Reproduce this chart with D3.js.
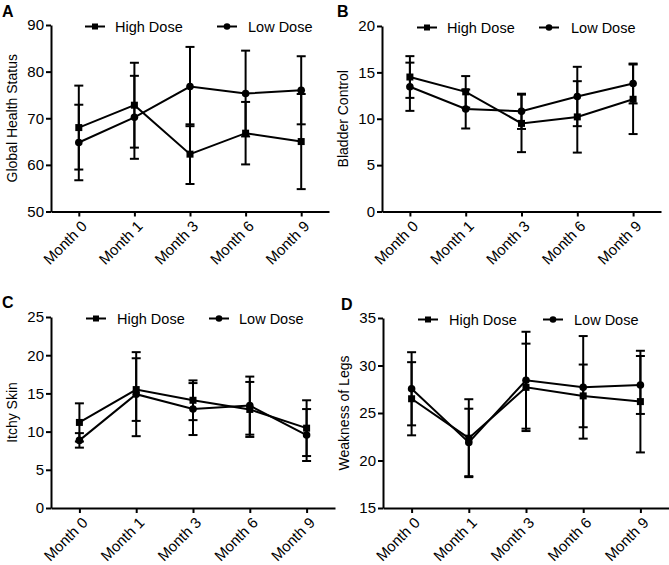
<!DOCTYPE html>
<html>
<head>
<meta charset="utf-8">
<script src="https://cdn.jsdelivr.net/npm/d3@7"></script>
<style>
  html, body { margin: 0; padding: 0; background: #fff; }
  svg { display: block; font-family: "Liberation Sans", Arial, sans-serif; }
</style>
</head>
<body>
<svg id="chart" width="669" height="565"></svg>
<script>
// ---- data ----
const categories = ["Month 0", "Month 1", "Month 3", "Month 6", "Month 9"];
const seriesNames = ["High Dose", "Low Dose"];

const highA = [68.0, 72.8, 62.3, 66.8, 65.0];
const highAErr = [9.0, 9.1, 6.4, 6.7, 10.2];
const lowA = [64.8, 70.2, 76.8, 75.3, 76.0];
const lowAErr = [8.1, 8.9, 8.5, 9.2, 7.3];
const ticksA = [50, 60, 70, 80, 90];

const highB = [14.5, 12.9, 9.5, 10.2, 12.1];
const highBErr = [2.25, 1.7, 3.1, 3.85, 3.75];
const lowB = [13.45, 11.05, 10.8, 12.4, 13.8];
const lowBErr = [2.6, 2.1, 1.9, 3.2, 2.15];
const ticksB = [0, 5, 10, 15, 20];

const highC = [11.2, 15.5, 14.1, 12.9, 10.45];
const highCErr = [2.5, 4.1, 2.6, 3.6, 3.65];
const lowC = [8.85, 14.9, 12.95, 13.4, 9.55];
const lowCErr = [0.95, 5.5, 3.4, 3.8, 3.4];
const ticksC = [0, 5, 10, 15, 20, 25];

const highD = [26.5, 22.35, 27.7, 26.8, 26.2];
const highDErr = [3.85, 4.1, 4.6, 3.3, 5.35];
const lowD = [27.55, 21.9, 28.45, 27.7, 27.95];
const lowDErr = [3.85, 3.55, 5.1, 5.4, 3.05];
const ticksD = [15, 20, 25, 30, 35];

const panelLetters = ["A", "B", "C", "D"];
const yTitles = ["Global Health Status", "Bladder Control", "Itchy Skin", "Weakness of Legs"];

// ---- layout ----
const panels = [
  { letter: panelLetters[0], title: yTitles[0], high: highA, highErr: highAErr, low: lowA, lowErr: lowAErr, ticks: ticksA,
    x0: 51, x1: 329, yTop: 25, yBot: 211.5, lx: [34, 166], tx: [64, 197], letterPos: [2, 17] },
  { letter: panelLetters[1], title: yTitles[1], high: highB, highErr: highBErr, low: lowB, lowErr: lowBErr, ticks: ticksB,
    x0: 382, x1: 661, yTop: 26, yBot: 211.5, lx: [35, 157], tx: [65, 189], letterPos: [337, 17] },
  { letter: panelLetters[2], title: yTitles[2], high: highC, highErr: highCErr, low: lowC, lowErr: lowCErr, ticks: ticksC,
    x0: 51, x1: 335, yTop: 317, yBot: 508, lx: [35, 158], tx: [66, 188], letterPos: [2, 308] },
  { letter: panelLetters[3], title: yTitles[3], high: highD, highErr: highDErr, low: lowD, lowErr: lowDErr, ticks: ticksD,
    x0: 383, x1: 669, yTop: 318, yBot: 508, lx: [35, 160], tx: [66, 191], letterPos: [341, 310] }
];

const svg = d3.select("#chart");
const ink = "#000";
const sw = 2;

function drawMarker(g, shape, x, y, s) {
  if (shape === "square") {
    g.append("rect").attr("x", x - s / 2).attr("y", y - s / 2).attr("width", s).attr("height", s).attr("fill", ink);
  } else {
    g.append("circle").attr("cx", x).attr("cy", y).attr("r", s / 2 + 0.3).attr("fill", ink);
  }
}

panels.forEach(p => {
  const g = svg.append("g");
  const x = d3.scalePoint().domain(categories).range([p.x0, p.x1]).padding(0.5);
  const y = d3.scaleLinear().domain([p.ticks[0], p.ticks[p.ticks.length - 1]]).range([p.yBot, p.yTop]);

  // y axis
  const ya = g.append("g").attr("transform", `translate(${p.x0},0)`)
    .call(d3.axisLeft(y).tickValues(p.ticks).tickSize(5).tickSizeOuter(0).tickPadding(2));
  // x axis
  const xa = g.append("g").attr("transform", `translate(0,${p.yBot})`)
    .call(d3.axisBottom(x).tickSize(5).tickSizeOuter(0));
  [ya, xa].forEach(a => {
    a.select(".domain").attr("stroke", ink).attr("stroke-width", sw);
    a.selectAll(".tick line").attr("stroke", ink).attr("stroke-width", sw);
    a.selectAll("text").attr("fill", ink).style("font-size", "15px").style("font-family", "'Liberation Sans', Arial, sans-serif");
  });
  xa.selectAll(".tick text")
    .attr("y", 0).attr("dy", "0.35em")
    .attr("text-anchor", "end")
    .attr("transform", "translate(5,12) rotate(-45)");

  // y title
  g.append("text")
    .attr("transform", `translate(${p.x0 - 34},${(p.yTop + p.yBot) / 2}) rotate(-90)`)
    .attr("text-anchor", "middle")
    .style("font-size", "14px").attr("fill", ink)
    .text(p.title);

  // panel letter
  g.append("text").attr("x", p.letterPos[0]).attr("y", p.letterPos[1])
    .style("font-size", "16px").style("font-weight", "bold").attr("fill", ink).text(p.letter);

  const series = [
    { vals: p.high, err: p.highErr, shape: "square" },
    { vals: p.low, err: p.lowErr, shape: "circle" }
  ];

  // error bars
  series.forEach(s => {
    s.vals.forEach((v, i) => {
      const cx = x(categories[i]);
      const yHi = y(v + s.err[i]), yLo = y(v - s.err[i]);
      g.append("line").attr("x1", cx).attr("x2", cx).attr("y1", yHi).attr("y2", yLo)
        .attr("stroke", ink).attr("stroke-width", sw);
      [yHi, yLo].forEach(yy => {
        g.append("line").attr("x1", cx - 4.5).attr("x2", cx + 4.5).attr("y1", yy).attr("y2", yy)
          .attr("stroke", ink).attr("stroke-width", sw);
      });
    });
  });

  // lines
  const line = d3.line().x((d, i) => x(categories[i])).y(d => y(d));
  series.forEach(s => {
    g.append("path").datum(s.vals).attr("d", line)
      .attr("fill", "none").attr("stroke", ink).attr("stroke-width", sw);
  });

  // markers
  series.forEach(s => {
    s.vals.forEach((v, i) => drawMarker(g, s.shape, x(categories[i]), y(v), 7));
  });

  // legend
  const ly = p.yTop + 1.5;
  series.forEach((s, k) => {
    const lx0 = p.x0 + p.lx[k];
    g.append("line").attr("x1", lx0).attr("x2", lx0 + 20).attr("y1", ly).attr("y2", ly)
      .attr("stroke", ink).attr("stroke-width", sw);
    drawMarker(g, s.shape, lx0 + 10, ly, 6);
    g.append("text").attr("x", p.x0 + p.tx[k]).attr("y", ly).attr("dy", "0.35em")
      .style("font-size", "14.5px").attr("fill", ink).text(seriesNames[k]);
  });
});
</script>
</body>
</html>
